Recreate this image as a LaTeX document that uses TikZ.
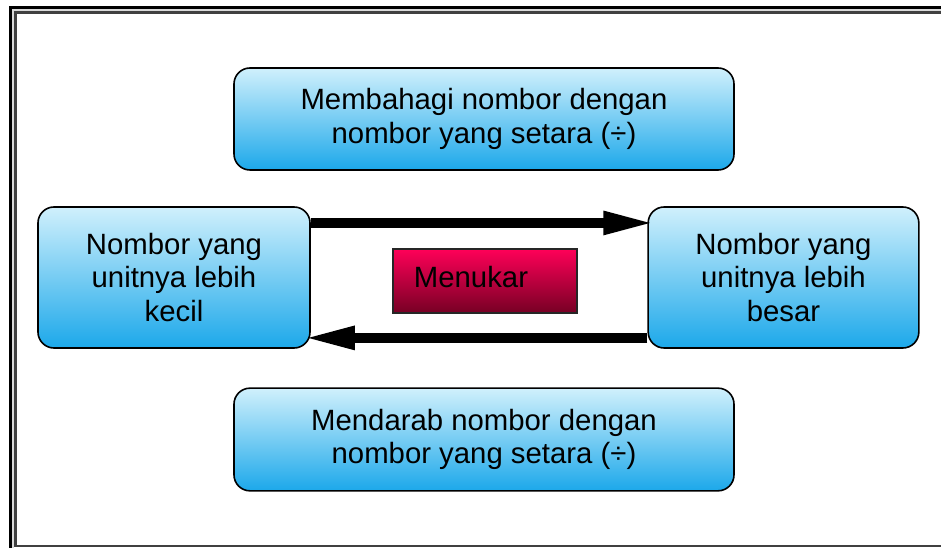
\documentclass[tikz,border=0pt]{standalone}
\usepackage{fontspec}
\setmainfont{Liberation Sans}
\usetikzlibrary{arrows.meta}
\definecolor{boxtop}{RGB}{208,240,252}
\definecolor{boxbot}{RGB}{28,168,234}
\definecolor{redtop}{RGB}{255,0,88}
\definecolor{redbot}{RGB}{118,0,36}
\tikzset{
  bluebox/.style={draw=black, line width=1.2pt, rounded corners=12pt,
    top color=boxtop, bottom color=boxbot, align=center,
    font=\fontsize{22}{25}\selectfont, inner sep=0pt},
  redbox/.style={draw=black!85, line width=0.9pt, top color=redtop, bottom color=redbot,
    minimum width=138pt, minimum height=48pt, inner sep=0pt},
  bigarrow/.style={line width=7.5pt, shorten >=-6pt,
    -{Triangle[length=39pt, width=16pt]}},
}
\begin{document}
\begin{tikzpicture}[x=0.75pt, y=-0.75pt]
  \useasboundingbox (0,0) rectangle (941,548);
  % double page frame
  \draw[black, line width=2.4pt] (10.5,7.5) rectangle (960,570);
  \draw[black!15, line width=1.2pt] (13,10) rectangle (955,565);
  \draw[black!75, line width=1.6pt] (15.5,12.5) rectangle (944,546);

  \node[bluebox, minimum width=375pt, minimum height=76.5pt] (top) at (484,119)
    {Membahagi nombor dengan\\nombor yang setara (÷)};
  \node[bluebox, minimum width=375pt, minimum height=77pt] (bot) at (484,439.5)
    {Mendarab nombor dengan\\nombor yang setara (÷)};
  \node[bluebox, minimum width=204pt, minimum height=105.75pt] (L) at (174,277.5)
    {Nombor yang\\unitnya lebih\\kecil};
  \node[bluebox, minimum width=203pt, minimum height=105.75pt] (R) at (783.5,277.5)
    {Nombor yang\\unitnya lebih\\besar};
  \node[redbox] (swap) at (485,281) {};
  \node[font=\fontsize{22}{25}\selectfont, anchor=center] (swaplabel) at (471,277) {Menukar};

  \draw[bigarrow] ([yshift=40.9pt]L.east) -- ([yshift=40.9pt]R.west);
  \draw[bigarrow] ([yshift=-45.3pt]R.west) -- ([yshift=-45.3pt]L.east);
\end{tikzpicture}
\end{document}
